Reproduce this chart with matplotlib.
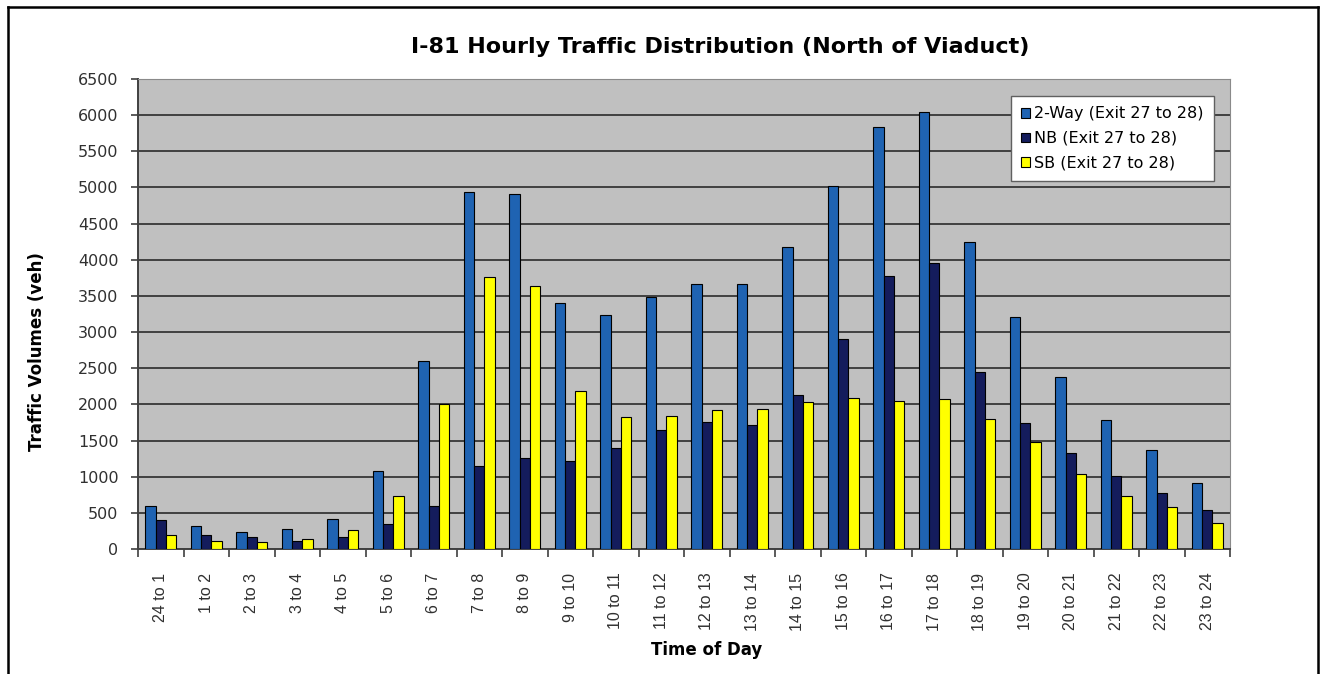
import numpy as np
import matplotlib
matplotlib.use("Agg")
import matplotlib.pyplot as plt
from matplotlib.lines import Line2D

plt.rcParams["font.family"] = ["DejaVu Sans"]

# дані
hours = ["24 to 1", "1 to 2", "2 to 3", "3 to 4", "4 to 5", "5 to 6", "6 to 7",
         "7 to 8", "8 to 9", "9 to 10", "10 to 11", "11 to 12", "12 to 13",
         "13 to 14", "14 to 15", "15 to 16", "16 to 17", "17 to 18", "18 to 19",
         "19 to 20", "20 to 21", "21 to 22", "22 to 23", "23 to 24"]

two_way = [595, 325, 235, 272, 410, 1074, 2604, 4942, 4905, 3406, 3240, 3490,
           3665, 3665, 4172, 5020, 5840, 6040, 4250, 3215, 2374, 1780, 1365, 908]
nb = [401, 189, 161, 115, 161, 350, 595, 1150, 1260, 1220, 1400, 1646,
      1761, 1711, 2125, 2909, 3780, 3955, 2448, 1738, 1332, 1014, 780, 539]
sb = [189, 115, 97, 134, 267, 729, 2001, 3766, 3637, 2190, 1830, 1844,
      1918, 1935, 2037, 2093, 2051, 2075, 1793, 1484, 1033, 729, 581, 355]

labels = ["2-Way (Exit 27 to 28)", "NB (Exit 27 to 28)", "SB (Exit 27 to 28)"]
colors = ["#1F63B2", "#141C5C", "#FFFF00"]

W, H = 1321, 674
fig = plt.figure(figsize=(W / 100, H / 100), dpi=100)
ax = fig.add_axes([138 / W, 1 - 549 / H, (1230 - 138) / W, (549 - 79) / H])

x = np.arange(len(hours))
w = 0.227
for i, (vals, lab, col) in enumerate(zip([two_way, nb, sb], labels, colors)):
    ax.bar(x + (i - 1) * w, vals, width=w, color=col, edgecolor="black",
           linewidth=0.8, label=lab, zorder=3)

ax.set_facecolor("#C0C0C0")
ax.set_xlim(-0.5, len(hours) - 0.5)
ax.set_ylim(0, 6500)
ax.set_yticks(np.arange(0, 6501, 500))
ax.yaxis.grid(True, color="#404040", linewidth=1.4)
ax.get_ygridlines()[-1].set_visible(False)
ax.set_axisbelow(True)

# поділки між категоріями, підписи по центру
ax.set_xticks(np.arange(-0.5, len(hours)), minor=False)
ax.set_xticklabels([])
ax.set_xticks(x, minor=True)
ax.set_xticklabels(hours, minor=True, rotation=90, fontsize=11.5, color="#303030")
for t in ax.get_xticklabels(minor=True):
    t.set_fontfamily("Liberation Sans")
ax.tick_params(axis="x", which="major", length=6, width=1.2, color="#404040", direction="out")
ax.tick_params(axis="x", which="minor", length=0, pad=17)
ax.tick_params(axis="y", length=5, width=1.2, color="#404040", pad=9,
               labelsize=11.5, labelcolor="#303030")

ax.spines["left"].set_color("#404040")
ax.spines["left"].set_linewidth(1.4)
ax.spines["bottom"].set_color("#404040")
ax.spines["bottom"].set_linewidth(1.4)
ax.spines["top"].set_color("#8a8a8a")
ax.spines["right"].set_color("#8a8a8a")

fig.text(720 / W, 1 - 47 / H, "I-81 Hourly Traffic Distribution (North of Viaduct)",
         fontsize=16, fontweight="bold", ha="center", va="center")
fig.text(37 / W, 1 - 352 / H, "Traffic Volumes (veh)", fontsize=12, fontweight="bold",
         rotation=90, ha="center", va="center")
fig.text(707 / W, 1 - 650 / H, "Time of Day", fontsize=12, fontweight="bold",
         ha="center", va="center")

leg = ax.legend(loc="upper right", bbox_to_anchor=(1076 / 1092, 1 - 17 / 470), fontsize=11.5,
                fancybox=False, edgecolor="#606060", framealpha=1,
                handlelength=0.55, handleheight=0.55, handletextpad=0.25,
                labelspacing=0.6, borderpad=0.65, borderaxespad=0)
leg.get_frame().set_linewidth(1.0)

# рамка навколо рисунка
fig.add_artist(Line2D([8 / W, 8 / W], [0, 1 - 7 / H], color="black", linewidth=1.8))
fig.add_artist(Line2D([8 / W, 1318 / W], [1 - 7 / H, 1 - 7 / H], color="black", linewidth=1.8))
fig.add_artist(Line2D([1318 / W, 1318 / W], [0, 1 - 7 / H], color="black", linewidth=1.8))

fig.savefig("out.png", dpi=100)
